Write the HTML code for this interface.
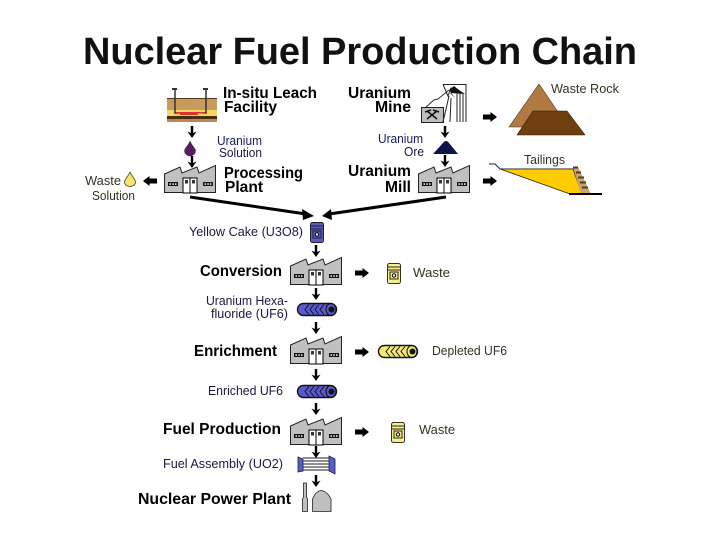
<!DOCTYPE html>
<html><head><meta charset="utf-8">
<style>
html,body{margin:0;padding:0;background:#fff;width:720px;height:540px;overflow:hidden}
svg{display:block}
text{font-family:"Liberation Sans",sans-serif;fill:#111}
.b{font-weight:bold;font-size:16px;fill:#000}
.r{font-size:12.500px;fill:#222}
</style></head><body>
<svg width="720" height="540" viewBox="0 0 720 540" xmlns="http://www.w3.org/2000/svg">
<defs>
<g id="factory">
<path d="M0.5 9 L16 2 L18 8 L33 2 L35 8 L51.5 0.5 V27.5 H0.5Z" fill="#c0c0c0" stroke="#222" stroke-width="1"/>
<rect x="19" y="13" width="14" height="15" fill="#fff" stroke="#000"/>
<line x1="26" y1="13" x2="26" y2="28" stroke="#000"/>
<rect x="21" y="15" width="3" height="3.5" fill="#333"/><rect x="28" y="15" width="3" height="3.5" fill="#333"/>
<rect x="4" y="17" width="10" height="4" fill="#111"/>
<rect x="5.500" y="18.300" width="1.500" height="1.500" fill="#fff"/><rect x="8.300" y="18.300" width="1.500" height="1.500" fill="#fff"/><rect x="11" y="18.300" width="1.500" height="1.500" fill="#fff"/>
<rect x="39" y="17" width="10" height="4" fill="#111"/>
<rect x="40.500" y="18.300" width="1.500" height="1.500" fill="#fff"/><rect x="43.300" y="18.300" width="1.500" height="1.500" fill="#fff"/><rect x="46" y="18.300" width="1.500" height="1.500" fill="#fff"/>
</g>
<g id="down"><rect x="-1.200" y="0" width="2.400" height="8" fill="#000"/><path d="M-4.500 5.500 L0 12 L4.500 5.500 L0 7.500Z" fill="#000"/></g>
<g id="right"><rect x="0" y="-2.500" width="9" height="5" fill="#000"/><path d="M7.500 -5 L14 0 L7.500 5Z" fill="#000"/></g>
<g id="barrel">
<rect x="0.5" y="0.5" width="13" height="20" rx="2"/>
<line x1="0.5" y1="4" x2="13.5" y2="4" stroke="#222"/>
<line x1="0.5" y1="7" x2="13.5" y2="7" stroke="#222"/>
<rect x="3" y="9" width="8" height="7" fill="none" stroke="#222"/>
<circle cx="7" cy="12.5" r="1.7" fill="#fff" stroke="#000"/>
</g>
<g id="cyl">
<rect x="0.5" y="0.5" width="39" height="12" rx="6" stroke="#111" stroke-width="1.400"/>
<path d="M12 1.5 L8 6.5 L12 11.5 M17 1.5 L13 6.5 L17 11.5 M22 1.5 L18 6.5 L22 11.5 M27 1.5 L23 6.5 L27 11.5" fill="none" stroke="#111"/>
<ellipse cx="34" cy="6.5" rx="5" ry="6" fill="none" stroke="#111"/>
<circle cx="34.500" cy="6.500" r="3" fill="#111"/>
</g>
</defs>

<text x="83" y="64" font-size="38" font-weight="bold" textLength="554" style="fill:#111">Nuclear Fuel Production Chain</text>

<!-- In-situ leach -->
<rect x="167" y="98" width="50" height="12" fill="#c89a5c"/>
<rect x="167" y="98" width="50" height="1" fill="#5a3a18"/>
<rect x="167" y="110" width="50" height="6" fill="#f6d565"/>
<rect x="167" y="116" width="50" height="3" fill="#4a2e12"/>
<rect x="167" y="119" width="50" height="3" fill="#b98a52"/>
<rect x="180" y="112" width="18" height="3" fill="#d8342a"/>
<path d="M175 89V113H178M206 89V113H203" fill="none" stroke="#333" stroke-width="1.500"/>
<rect x="172" y="88" width="5" height="2" fill="#333"/><rect x="203" y="88" width="5" height="2" fill="#333"/>
<rect x="176" y="112" width="29" height="1.500" fill="#d8342a"/>
<text class="b" x="223" y="98" textLength="94" lengthAdjust="spacingAndGlyphs">In-situ Leach</text>
<text class="b" x="224" y="112" textLength="53" lengthAdjust="spacingAndGlyphs">Facility</text>

<use href="#down" x="192" y="126"/>
<path d="M190 141 C192 146 195.500 148 195.500 151 A5.500 5 0 0 1 184.500 151 C184.500 148 188 146 190 141Z" fill="#5a1a66" stroke="#222" stroke-width=".5"/>
<text class="r" x="217" y="145" textLength="45" lengthAdjust="spacingAndGlyphs" style="fill:#1a1a60">Uranium</text>
<text class="r" x="219" y="157" textLength="43" lengthAdjust="spacingAndGlyphs" style="fill:#1a1a40">Solution</text>
<use href="#down" x="192" y="156"/>

<use href="#factory" x="164" y="165"/>
<text class="b" x="224" y="178" textLength="79" lengthAdjust="spacingAndGlyphs">Processing</text>
<text class="b" x="225" y="192" textLength="38" lengthAdjust="spacingAndGlyphs">Plant</text>

<use href="#right" transform="translate(157 181) scale(-1 1)"/>
<path d="M130 172 C132 177 135.500 179 135.500 182 A5.500 4.500 0 0 1 124.500 182 C124.500 179 128 177 130 172Z" fill="#f5e56a" stroke="#443" stroke-width=".8"/>
<text class="r" x="85" y="185" textLength="36" lengthAdjust="spacingAndGlyphs" style="fill:#332">Waste</text>
<text class="r" x="92" y="200" textLength="43" lengthAdjust="spacingAndGlyphs" style="fill:#332">Solution</text>

<!-- Mine -->
<text class="b" x="348" y="98" textLength="63" lengthAdjust="spacingAndGlyphs">Uranium</text>
<text class="b" x="375" y="112" textLength="36" lengthAdjust="spacingAndGlyphs">Mine</text>
<rect x="421.500" y="107.500" width="22" height="15" fill="#bdbdbd" stroke="#222"/>
<path d="M427 111 L437 119 M437 111 L427 119 M425 112 L431 110 M433 110 L439 112" stroke="#111" stroke-width="1.500" fill="none"/>
<path d="M426 107 L434 100 L438 99 L449 90" stroke="#333" fill="none"/>
<path d="M443 84.500 H466 V122 M463 93 V122 M460 93 V122 M457 93 V122 M443 84.500 L448 96 L451 88 L458 92 M451 98 L450 122 M449 96 L443 122" stroke="#222" fill="none"/>
<path d="M449 90 L454 86 L459 90 L465 94 L450 93 L455 98Z" fill="#111"/>
<use href="#down" x="445" y="126"/>
<path d="M433 154 L443 143 Q446 139 449 143 L458 154Z" fill="#0d1448"/>
<text class="r" x="378" y="143" textLength="45" lengthAdjust="spacingAndGlyphs" style="fill:#1a1a60">Uranium</text>
<text class="r" x="404" y="156" textLength="20" lengthAdjust="spacingAndGlyphs" style="fill:#1a1a40">Ore</text>
<use href="#down" x="445" y="155"/>
<use href="#factory" x="418" y="165"/>
<text class="b" x="348" y="176" textLength="63" lengthAdjust="spacingAndGlyphs">Uranium</text>
<text class="b" x="385" y="192" textLength="26" lengthAdjust="spacingAndGlyphs">Mill</text>

<!-- waste rock / tailings -->
<use href="#right" x="483" y="117"/>
<use href="#right" x="483" y="181"/>
<path d="M509 127 L539 84 L558 112 L530 127Z" fill="#b07a42" stroke="#4a3010" stroke-width=".6"/>
<path d="M517 135 L533 111 H567 L585 135Z" fill="#6f3f10" stroke="#2e1a05" stroke-width=".6"/>
<text class="r" x="551" y="93" textLength="68" lengthAdjust="spacingAndGlyphs" style="fill:#332">Waste Rock</text>
<text class="r" x="524" y="164" textLength="41" lengthAdjust="spacingAndGlyphs" style="fill:#332">Tailings</text>
<path d="M489 164 H495 L500 169 H574" fill="none" stroke="#222"/>
<path d="M500 169 H573 L582 194 H570Z" fill="#ffcc00" stroke="#222" stroke-width=".8"/>
<path d="M573 167 H578 L591 194 H581Z" fill="#d0a070"/>
<path d="M573 167.500H578 M576 172.500H581 M578 177.500H584 M580 182.500H586 M582 187.500H588" stroke="#442" stroke-width="2"/>
<rect x="569" y="193" width="33" height="2" fill="#000"/>

<!-- big lines -->
<line x1="190" y1="197" x2="306" y2="214" stroke="#000" stroke-width="3"/>
<path d="M302 209 L314 216 L303 220Z" fill="#000"/>
<line x1="446" y1="197" x2="329" y2="214" stroke="#000" stroke-width="3"/>
<path d="M331 209 L322 216 L332 220Z" fill="#000"/>

<text class="r" x="189" y="236" textLength="114" lengthAdjust="spacingAndGlyphs" style="fill:#1a1a40">Yellow Cake (U3O8)</text>
<use href="#barrel" x="310" y="222" fill="#5a5acb" stroke="#222"/>
<use href="#down" x="316" y="245"/>
<use href="#factory" x="290" y="257"/>
<text class="b" x="200" y="276" textLength="82" lengthAdjust="spacingAndGlyphs">Conversion</text>
<use href="#right" x="355" y="273"/>
<use href="#barrel" x="387" y="263" fill="#f7f08a" stroke="#332"/>
<text class="r" x="413" y="277" textLength="37" lengthAdjust="spacingAndGlyphs" style="fill:#332">Waste</text>

<use href="#down" x="316" y="288"/>
<text class="r" x="206" y="305" textLength="82" lengthAdjust="spacingAndGlyphs" style="fill:#1a1a40">Uranium Hexa-</text>
<text class="r" x="211" y="318" textLength="77" lengthAdjust="spacingAndGlyphs" style="fill:#1a1a40">fluoride (UF6)</text>
<use href="#cyl" x="297" y="303" fill="#5a5ad0"/>
<use href="#down" x="316" y="322"/>
<use href="#factory" x="290" y="336"/>
<text class="b" x="194" y="356" textLength="83" lengthAdjust="spacingAndGlyphs">Enrichment</text>
<use href="#right" x="355" y="352"/>
<use href="#cyl" x="378" y="345" fill="#f5ea70"/>
<text class="r" x="432" y="355" textLength="75" lengthAdjust="spacingAndGlyphs" style="fill:#332">Depleted UF6</text>

<use href="#down" x="316" y="369"/>
<text class="r" x="208" y="395" textLength="75" lengthAdjust="spacingAndGlyphs" style="fill:#1a1a40">Enriched UF6</text>
<use href="#cyl" x="297" y="385" fill="#5a5ad0"/>
<use href="#down" x="316" y="403"/>
<use href="#factory" x="290" y="417"/>
<text class="b" x="163" y="434" textLength="118" lengthAdjust="spacingAndGlyphs">Fuel Production</text>
<use href="#right" x="355" y="432"/>
<use href="#barrel" x="391" y="422" fill="#f7f08a" stroke="#332"/>
<text class="r" x="419" y="434" textLength="36" lengthAdjust="spacingAndGlyphs" style="fill:#332">Waste</text>

<use href="#down" x="316" y="446"/>
<text class="r" x="163" y="468" textLength="120" lengthAdjust="spacingAndGlyphs" style="fill:#1a1a40">Fuel Assembly (UO2)</text>
<path d="M303 458H330 M303 461H330 M303 464H330 M303 467H330 M303 470H330" stroke="#222" stroke-width="1"/>
<path d="M298 457 L303 459 V471 L298 472Z" fill="#5a5ad0" stroke="#222" stroke-width=".8"/>
<path d="M329 456 L335 459 V474 L329 471Z" fill="#5a5ad0" stroke="#222" stroke-width=".8"/>

<use href="#down" x="316" y="475"/>
<path d="M303.500 483H306.500V497L307.500 499V511.500H302.500V499L303.500 497Z" fill="#c0c0c0" stroke="#222" stroke-width=".8"/>
<path d="M312.500 511.500V499 Q316 491 321 490.500 Q327 491 331 499 V511.500Z" fill="#c0c0c0" stroke="#222" stroke-width=".8"/>
<text class="b" x="138" y="504" textLength="153" lengthAdjust="spacingAndGlyphs">Nuclear Power Plant</text>
</svg>
</body></html>
